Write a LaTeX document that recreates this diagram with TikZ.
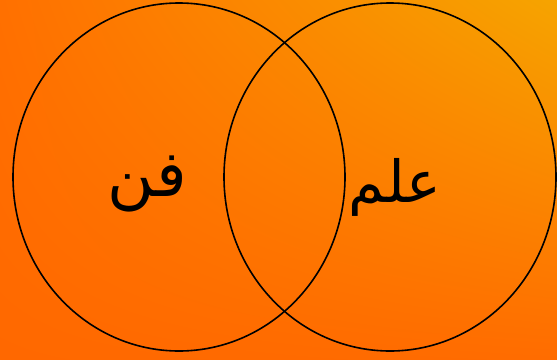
\documentclass[tikz,border=0pt]{standalone}
\usepackage{fontspec}
\usetikzlibrary{shadings}
\newfontfamily\arabicfont[Script=Arabic]{DejaVu Sans}
\TeXXeTstate=1
\definecolor{bgul}{RGB}{255,112,0}
\definecolor{bgur}{RGB}{246,164,0}
\definecolor{bgll}{RGB}{255,104,0}
\definecolor{bglr}{RGB}{255,108,0}
\begin{document}
\begin{tikzpicture}[x=1pt,y=-1pt,
  venn/.style={draw=black,line width=1.6pt},
  lbl/.style={inner sep=0pt,font=\arabicfont\fontsize{64}{70}\selectfont}]
\useasboundingbox (0,0) rectangle (557,359);
\shade[upper left=bgul, upper right=bgur, lower left=bgll, lower right=bglr]
  (0,0) rectangle (557,359);
\draw[venn] (179,177) ellipse [x radius=166, y radius=174];
\draw[venn] (390,177) ellipse [x radius=166, y radius=174];
\node[lbl] (fan) at (147,184) {\beginR فن\endR};
\node[lbl,font=\arabicfont\fontsize{58}{66}\selectfont] (ilm) at (395,187) {\beginR علم\endR};
\end{tikzpicture}
\end{document}
